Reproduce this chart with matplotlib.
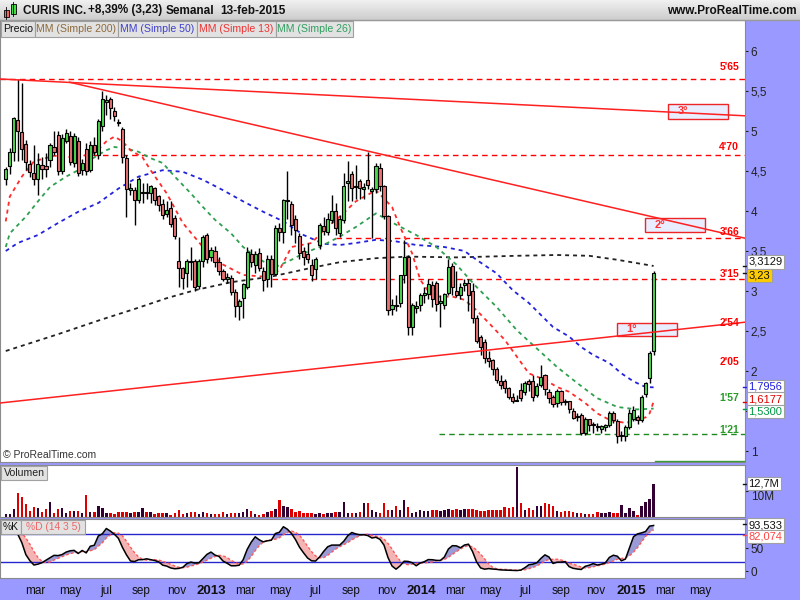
import matplotlib
matplotlib.use('Agg')
import matplotlib.pyplot as plt
import matplotlib.dates as mdates
from matplotlib.patches import Rectangle
from matplotlib.colors import LinearSegmentedColormap
import numpy as np
import pandas as pd

plt.rcParams['font.family'] = ['Liberation Sans', 'DejaVu Sans']

# weekly candles (CURIS INC.), last one = week of 13-feb-2015
opens = [
    4.40, 4.567, 4.742, 5.133, 4.983, 4.837, 4.592, 4.47, 4.396, 4.58,
    4.567, 4.633, 4.796, 4.946, 4.496, 4.879, 4.933, 4.596, 4.871, 4.508,
    4.771, 4.508, 4.821, 4.704, 5.058, 5.358, 5.396, 5.246, 5.11, 5.021,
    4.658, 4.258, 4.258, 4.133, 4.22, 4.233, 4.221, 4.283, 4.183, 4.083,
    3.958, 4.033, 3.908, 3.371, 3.283, 3.221, 3.38, 3.371, 3.067, 3.379,
    3.696, 3.421, 3.50, 3.363, 3.246, 3.146, 3.167, 2.988, 2.813, 2.908,
    3.046, 3.458, 3.321, 3.471, 3.254, 3.146, 3.40, 3.212, 3.788, 3.738,
    4.13, 4.083, 3.904, 3.683, 3.496, 3.458, 3.321, 3.271, 3.571, 3.813,
    3.738, 3.888, 3.996, 3.721, 3.888, 4.35, 4.458, 4.30, 4.37, 4.27,
    4.383, 4.246, 4.27, 4.533, 4.308, 3.937, 2.771, 2.83, 2.846, 3.196,
    3.429, 2.546, 2.79, 2.821, 2.95, 2.963, 3.071, 3.096, 2.85, 2.821,
    2.979, 3.308, 2.996, 2.946, 3.071, 3.096, 3.0, 2.658, 2.429, 2.362,
    2.16, 2.137, 2.021, 1.879, 1.871, 1.783, 1.675, 1.63, 1.758, 1.733,
    1.879, 1.871, 1.70, 1.825, 1.946, 1.733, 1.675, 1.596, 1.754, 1.62,
    1.62, 1.504, 1.42, 1.454, 1.229, 1.396, 1.325, 1.31, 1.275, 1.30,
    1.325, 1.479, 1.379, 1.19, 1.1875, 1.296, 1.404, 1.429, 1.3875, 1.7125,
    1.9125, 2.25]
highs = [
    4.55, 4.79, 5.18, 5.645, 5.60, 4.887, 4.637, 4.825, 4.72, 4.67,
    4.72, 4.85, 5.0, 5.0, 4.96, 5.02, 5.0, 4.97, 4.93, 4.65,
    4.85, 4.88, 4.92, 5.15, 5.50, 5.45, 5.42, 5.30, 5.15, 5.05,
    4.70, 4.35, 4.30, 4.42, 4.35, 4.35, 4.33, 4.30, 4.20, 4.15,
    4.13, 4.13, 3.95, 3.68, 3.30, 3.40, 3.55, 3.40, 3.40, 3.70,
    3.72, 3.55, 3.56, 3.42, 3.28, 3.22, 3.20, 3.02, 2.90, 3.10,
    3.55, 3.52, 3.50, 3.54, 3.30, 3.45, 3.45, 3.82, 3.85, 4.15,
    4.50, 4.12, 3.95, 3.72, 3.55, 3.60, 3.40, 3.42, 3.85, 3.92,
    3.97, 4.20, 4.10, 3.95, 4.47, 4.62, 4.50, 4.58, 4.40, 4.35,
    4.74, 4.30, 4.60, 4.60, 4.32, 3.95, 2.90, 2.95, 3.20, 3.64,
    3.45, 2.85, 2.88, 2.98, 3.05, 3.15, 3.12, 3.12, 2.95, 2.98,
    3.40, 3.35, 3.25, 3.10, 3.15, 3.15, 3.10, 2.70, 2.45, 2.40,
    2.25, 2.15, 2.05, 1.95, 1.90, 1.80, 1.72, 1.70, 1.85, 1.88,
    1.90, 1.95, 1.85, 2.075, 1.96, 1.78, 1.70, 1.78, 1.76, 1.65,
    1.63, 1.54, 1.48, 1.48, 1.42, 1.40, 1.36, 1.35, 1.33, 1.34,
    1.50, 1.50, 1.40, 1.25, 1.32, 1.52, 1.56, 1.45, 1.70, 1.86,
    2.25, 3.25]
lows = [
    4.32, 4.46, 4.62, 4.62, 4.64, 4.512, 4.43, 4.325, 4.196, 4.40,
    4.43, 4.55, 4.70, 4.45, 4.46, 4.85, 4.57, 4.55, 4.44, 4.45,
    4.45, 4.49, 4.70, 4.65, 5.0, 5.2, 5.15, 5.12, 5.06, 4.6,
    3.92, 4.20, 3.83, 4.10, 4.10, 4.15, 4.10, 4.08, 4.00, 3.90,
    3.92, 3.80, 3.65, 3.05, 3.02, 3.05, 3.14, 3.00, 3.03, 3.30,
    3.35, 3.38, 3.30, 3.20, 3.12, 3.10, 2.95, 2.68, 2.64, 2.66,
    3.02, 3.30, 3.22, 3.25, 3.00, 3.05, 3.05, 3.20, 3.62, 3.60,
    3.90, 3.70, 3.60, 3.40, 3.32, 3.35, 3.12, 3.15, 3.52, 3.70,
    3.70, 3.85, 3.70, 3.68, 3.85, 4.13, 4.12, 4.15, 4.15, 4.15,
    4.28, 3.66, 4.22, 4.25, 3.90, 2.70, 2.70, 2.75, 2.80, 3.10,
    2.45, 2.45, 2.72, 2.75, 2.85, 2.90, 2.80, 2.75, 2.55, 2.78,
    2.95, 2.95, 2.93, 2.90, 3.00, 2.75, 2.60, 2.35, 2.20, 2.10,
    2.05, 1.95, 1.85, 1.78, 1.72, 1.65, 1.60, 1.62, 1.62, 1.70,
    1.75, 1.62, 1.68, 1.80, 1.70, 1.60, 1.55, 1.55, 1.58, 1.57,
    1.48, 1.40, 1.38, 1.20, 1.20, 1.25, 1.22, 1.25, 1.22, 1.25,
    1.30, 1.35, 1.10, 1.13, 1.12, 1.28, 1.38, 1.34, 1.36, 1.68,
    1.85, 2.20]
closes = [
    4.525, 4.733, 5.167, 5.004, 4.771, 4.608, 4.492, 4.404, 4.592, 4.52,
    4.521, 4.821, 4.742, 4.496, 4.917, 4.971, 4.617, 4.933, 4.471, 4.596,
    4.50, 4.821, 4.742, 5.121, 5.396, 5.383, 5.283, 5.183, 5.10, 4.671,
    4.271, 4.283, 4.133, 4.396, 4.225, 4.221, 4.308, 4.133, 4.071, 3.946,
    4.008, 3.838, 3.683, 3.283, 3.162, 3.379, 3.36, 3.05, 3.371, 3.679,
    3.40, 3.508, 3.367, 3.246, 3.146, 3.171, 2.992, 2.813, 2.871, 3.083,
    3.492, 3.367, 3.458, 3.283, 3.138, 3.40, 3.217, 3.783, 3.738, 4.133,
    4.14, 3.829, 3.763, 3.471, 3.425, 3.40, 3.196, 3.404, 3.821, 3.746,
    3.904, 4.004, 3.783, 3.904, 4.317, 4.37, 4.283, 4.31, 4.283, 4.296,
    4.321, 4.279, 4.558, 4.308, 3.937, 2.762, 2.821, 2.813, 3.196, 3.429,
    2.546, 2.821, 2.813, 2.946, 2.98, 3.087, 2.896, 2.837, 2.88, 2.963,
    3.304, 3.05, 2.946, 3.046, 3.096, 2.95, 2.658, 2.371, 2.296, 2.158,
    2.13, 2.021, 1.888, 1.821, 1.783, 1.675, 1.625, 1.64, 1.667, 1.854,
    1.837, 1.671, 1.808, 1.921, 1.77, 1.658, 1.592, 1.754, 1.617, 1.61,
    1.52, 1.4125, 1.43, 1.229, 1.396, 1.325, 1.32, 1.30, 1.3125, 1.33,
    1.479, 1.3875, 1.1875, 1.20, 1.296, 1.471, 1.5125, 1.3875, 1.67, 1.845,
    2.22, 3.229]
# weekly volume, millions
volumes = [
    1.3, 1.3, 3.0, 9.3, 7.6, 4.9, 2.3, 3.7, 3.4, 1.9,
    3.2, 5.7, 1.7, 3.0, 3.4, 1.7, 2.2, 2.2, 2.2, 1.7,
    8.4, 1.9, 1.9, 4.1, 3.5, 1.7, 1.4, 1.3, 1.8, 2.1,
    1.9, 1.7, 1.8, 1.9, 3.6, 1.8, 1.8, 1.3, 1.4, 1.4,
    1.4, 0.9, 1.5, 2.6, 1.3, 1.4, 1.9, 1.9, 1.3, 1.9,
    1.5, 1.0, 1.2, 1.2, 1.9, 1.3, 1.4, 1.5, 1.5, 1.9,
    3.0, 2.2, 1.3, 0.9, 1.3, 1.9, 2.2, 3.0, 6.6, 4.3,
    3.9, 3.2, 1.9, 2.2, 1.5, 1.5, 1.5, 1.2, 1.5, 1.3,
    1.5, 1.5, 1.8, 1.9, 5.8, 1.7, 1.7, 1.7, 1.9, 5.4,
    5.4, 2.8, 1.9, 1.7, 5.5, 2.7, 2.7, 4.3, 2.7, 6.5,
    3.9, 1.7, 1.9, 2.7, 2.5, 2.5, 2.7, 2.7, 2.3, 2.7,
    3.1, 2.7, 3.2, 2.7, 3.2, 3.2, 3.2, 2.7, 2.5, 2.5,
    2.7, 2.7, 2.8, 2.8, 3.7, 3.5, 3.7, 19.2, 5.3, 2.8,
    3.6, 2.7, 4.3, 4.3, 5.2, 4.9, 4.1, 2.2, 1.8, 2.2,
    2.2, 1.9, 1.7, 1.7, 1.0, 1.0, 1.0, 2.0, 1.7, 1.7,
    1.8, 1.7, 1.7, 4.8, 1.7, 3.5, 2.2, 0.6, 4.1, 5.8,
    7.0, 12.7]

# moving averages (week index, value)
ma200_weeks = [0, 13, 23, 32, 40, 47, 56, 66, 76, 83, 92, 100, 112, 127, 137, 145, 152, 161]
ma200_vals = [2.25, 2.46, 2.63, 2.775, 2.91, 3.01, 3.11, 3.18, 3.29, 3.36, 3.41, 3.43,
              3.42, 3.44, 3.45, 3.44, 3.39, 3.3129]
ma50_weeks = [0, 3, 8, 13, 18, 23, 28, 33, 39, 44, 49, 54, 59, 64, 69, 74, 79, 83, 87, 92,
              97, 102, 109, 114, 117, 122, 126, 130, 133, 136, 140, 143, 146, 150, 153, 156, 159, 161]
ma50_vals = [3.50, 3.60, 3.70, 3.85, 3.99, 4.10, 4.28, 4.43, 4.51, 4.49, 4.39, 4.26, 4.12, 3.99,
             3.87, 3.70, 3.59, 3.575, 3.60, 3.64, 3.62, 3.575, 3.55, 3.50, 3.39, 3.22, 3.01, 2.85,
             2.70, 2.55, 2.43, 2.30, 2.20, 2.10, 1.97, 1.87, 1.80, 1.7956]
ma26_weeks = [0, 1, 5, 8, 11, 15, 18, 21, 25, 27, 30, 33, 36, 39, 42, 46, 49, 52, 56, 59,
              62, 64, 67, 71, 74, 78, 83, 87, 92, 97, 102, 107, 112, 117, 122, 127, 132, 137,
              142, 147, 152, 157, 161]
ma26_vals = [3.55, 3.72, 3.93, 4.12, 4.30, 4.43, 4.51, 4.64, 4.76, 4.80, 4.78, 4.74, 4.66, 4.60,
             4.43, 4.22, 4.05, 3.89, 3.72, 3.55, 3.43, 3.37, 3.30, 3.39, 3.47, 3.55, 3.68, 3.80,
             3.97, 3.83, 3.70, 3.55, 3.33, 3.05, 2.80, 2.51, 2.28, 2.05, 1.85, 1.66, 1.55, 1.52, 1.53]
ma13_weeks = [0, 1, 4, 7, 12, 17, 22, 25, 27, 29, 31, 34, 36, 40, 44, 49, 54, 59, 64, 68,
              71, 76, 79, 83, 87, 92, 96, 98, 101, 103, 106, 111, 114, 117, 121, 124, 127, 130,
              134, 137, 140, 144, 147, 150, 154, 157, 159, 160, 161]
ma13_vals = [3.87, 4.18, 4.43, 4.62, 4.69, 4.67, 4.72, 4.87, 4.93, 4.87, 4.76, 4.67, 4.51, 4.22,
             3.85, 3.55, 3.33, 3.20, 3.18, 3.26, 3.55, 3.60, 3.76, 3.93, 4.12, 4.26, 4.05, 3.80,
             3.47, 3.14, 2.93, 2.93, 2.89, 2.76, 2.55, 2.39, 2.18, 1.97, 1.89, 1.80, 1.74, 1.60,
             1.47, 1.39, 1.35, 1.39, 1.42, 1.47, 1.6177]

# horizontal levels: price, start date, colour
level_prices = [5.65, 4.70, 3.66, 3.15, 1.21]
level_starts = ['2011-12-30', '2012-05-22', '2013-08-05', '2013-04-17', '2014-02-01']
level_colors = ['#ff0000', '#ff0000', '#ff0000', '#ff0000', '#1f8a1f']
level_texts = ["5'65", "4'70", "3'66", "3'15", "2'54", "2'05", "1'57", "1'21"]
level_text_y = [5.80, 4.80, 3.7375, 3.2125, 2.60, 2.1125, 1.6625, 1.2625]
level_text_col = ['#ff0000'] * 6 + ['#2a9a2a', '#2a9a2a']

# trend lines (start, end)
trend_lines = [(('2011-12-30', 5.65), ('2015-07-18', 5.19)),
               (('2012-04-29', 5.61), ('2015-07-18', 3.66)),
               (('2011-12-30', 1.60), ('2015-07-18', 2.61))]
# target boxes: label, left date, bottom, top
boxes = [('1°', '2014-12-07', 2.4375, 2.60),
         ('2°', '2015-01-25', 3.7375, 3.9125),
         ('3°', '2015-03-06', 5.15, 5.3375)]

month_ticks = ['2012-03-01', '2012-05-01', '2012-07-01', '2012-09-01', '2012-11-01', '2013-01-01',
               '2013-03-01', '2013-05-01', '2013-07-01', '2013-09-01', '2013-11-01', '2014-01-01',
               '2014-03-01', '2014-05-01', '2014-07-01', '2014-09-01', '2014-11-01', '2015-01-01',
               '2015-03-01', '2015-05-01']
month_labels = ['mar', 'may', 'jul', 'sep', 'nov', '2013', 'mar', 'may', 'jul', 'sep', 'nov',
                '2014', 'mar', 'may', 'jul', 'sep', 'nov', '2015', 'mar', 'may']

dates = pd.date_range(end='2015-02-09', periods=len(closes), freq='7D')
x = mdates.date2num(dates)
o, h, l, c = map(np.array, (opens, highs, lows, closes))
up = c >= o
xl = mdates.date2num(pd.to_datetime(['2011-12-30', '2015-07-18']))

PURPLE = '#9999ff'
fig = plt.figure(figsize=(8, 6), dpi=100, facecolor=PURPLE)


def pbox(x0, y0, x1, y1):
    return [x0 / 800, 1 - y1 / 600, (x1 - x0) / 800, (y1 - y0) / 600]


ax = fig.add_axes(pbox(0, 20, 745, 462))
axv = fig.add_axes(pbox(0, 465, 745, 517))
axs = fig.add_axes(pbox(0, 519, 745, 578))
for a in (ax, axv, axs):
    a.set_xlim(xl)
    a.set_facecolor('white')
    for sp in a.spines.values():
        sp.set_color('#8a8a8a')
        sp.set_linewidth(0.8)
    a.yaxis.tick_right()
    a.tick_params(axis='y', direction='out', length=2.5, pad=1.5, labelsize=8.5,
                  colors='#222222')
ax.tick_params(axis='x', bottom=False, labelbottom=False)
axv.tick_params(axis='x', bottom=False, labelbottom=False)

# ---- price panel
ax.set_ylim(0.8625, 6.3875)
yt = [1, 1.5, 2, 2.5, 3, 3.5, 4, 4.5, 5, 5.5, 6]
ax.set_yticks(yt)
# 1,5 sits under the last-value boxes, so it is left blank
ax.set_yticklabels(['' if v == 1.5 else ('%g' % v).replace('.', ',') for v in yt])

for p, s, col in zip(level_prices, level_starts, level_colors):
    ax.hlines(p, mdates.date2num(pd.Timestamp(s)), xl[1], colors=col, lw=1,
              linestyles=(0, (4, 3)), zorder=1)
for (d0, p0), (d1, p1) in trend_lines:
    ax.plot(mdates.date2num(pd.to_datetime([d0, d1])), [p0, p1], color='#ff2020', lw=1.1, zorder=5)
for lab, d0, b, t in boxes:
    x0 = mdates.date2num(pd.Timestamp(d0))
    ax.add_patch(Rectangle((x0, b), 104.4, t - b, facecolor='#e4eaff', edgecolor='#ee0000',
                           lw=1, alpha=0.85, zorder=1.5))
    ax.text(x0 + 26, (b + t) / 2, lab, color='#ff3030', fontsize=8, fontweight='bold',
            va='center', ha='center', zorder=6)

ma_specs = [(ma200_weeks, ma200_vals, '#222222'), (ma50_weeks, ma50_vals, '#2222dd'),
            (ma26_weeks, ma26_vals, '#2f9f4f'), (ma13_weeks, ma13_vals, '#ff2a2a')]
for wk, vals, col in ma_specs:
    ax.plot(x[wk], vals, color=col, lw=1.3, ls=(0, (2.2, 2.2)), zorder=2)

# candles
ax.vlines(x, l, h, color='black', lw=1, zorder=3)
ax.bar(x, np.maximum(np.abs(c - o), 0.012), bottom=np.minimum(o, c), width=5.4,
       color=np.where(up, '#4cd94c', '#eb7272'), edgecolor='black', lw=0.8, zorder=4)

tr = ax.get_yaxis_transform()
for txt, yy, col in zip(level_texts, level_text_y, level_text_col):
    ax.text(0.992, yy, txt, transform=tr, ha='right', va='center', fontsize=7.5,
            fontweight='bold', color=col, zorder=7)

# ---- volume panel
axv.set_ylim(0, 20)
axv.bar(x, volumes, width=4.3, color=np.where(up, '#330033', '#dd0000'))
axv.set_yticks([10])
axv.set_yticklabels(['10M'], va='top')

# ---- stochastic panel
cs, hs, ls_ = pd.Series(c), pd.Series(h), pd.Series(l)
hh = hs.rolling(14, min_periods=1).max()
ll = ls_.rolling(14, min_periods=1).min()
fast_k = 100 * (cs - ll) / (hh - ll)
k = fast_k.rolling(3, min_periods=1).mean().values
d = pd.Series(k).rolling(5, min_periods=1).mean().values
axs.set_ylim(-14, 112)
axs.fill_between(x, k, d, where=k >= d, color='#9a9ad6', interpolate=True, lw=0)
axs.fill_between(x, k, d, where=k < d, color='#f5b4b4', interpolate=True, lw=0)
axs.axhline(80, color='#2626cc', lw=1)
axs.axhline(20, color='#2626cc', lw=1)
axs.plot(x, d, color='#ff5a5a', lw=1, ls=(0, (2, 1.5)))
axs.plot(x, k, color='black', lw=1.1)
axs.set_yticks([0, 50])
axs.set_yticklabels(['0', '50'])
axs.set_xticks(mdates.date2num(pd.to_datetime(month_ticks)))
axs.set_xticklabels(month_labels)
axs.tick_params(axis='x', length=0, pad=5, labelsize=8.5, colors='#111111')
for t in axs.get_xticklabels():
    if t.get_text().isdigit():
        t.set_fontweight('bold')
        t.set_fontsize(9.5)

# ---- overlay in pixel coordinates
ov = fig.add_axes([0, 0, 1, 1], zorder=10)
ov.set_axis_off()
grad = LinearSegmentedColormap.from_list('hdr', ['#f0f0f0', '#cdcdcd'])
ov.imshow(np.linspace(0, 1, 20).reshape(-1, 1), extent=(0, 800, 20, 0), cmap=grad, aspect='auto')
ov.set_xlim(0, 800)
ov.set_ylim(600, 0)
ov.plot([0, 800], [20, 20], color='#999999', lw=1)
# header icon
ov.plot([6, 6], [7, 19], color='black', lw=0.6)
ov.add_patch(Rectangle((3.5, 10), 5, 7, fc='#ee6666', ec='black', lw=0.6))
ov.plot([13, 13], [2, 16], color='black', lw=0.6)
ov.add_patch(Rectangle((10.5, 4), 5, 10, fc='#44dd44', ec='black', lw=0.6))
hdr = dict(fontsize=8.5, fontweight='bold', va='center', color='#111111')
ov.text(23, 10.5, 'CURIS INC.', **hdr)
ov.text(88, 10.5, '+8,39% (3,23)', **hdr)
ov.text(166, 10.5, 'Semanal', **hdr)
ov.text(220, 10.5, '13-feb-2015', **hdr)
ov.text(797, 10.5, 'www.ProRealTime.com', ha='right', fontsize=8.5, fontweight='bold',
        va='center', color='#111111')

tabs = [('Precio', '#111111', 1, 35), ('MM (Simple 200)', '#8c6a3c', 35, 118),
        ('MM (Simple 50)', '#4040cc', 118, 197), ('MM (Simple 13)', '#ee3333', 197, 276),
        ('MM (Simple 26)', '#2f9f5f', 276, 353)]
for txt, col, x0, x1 in tabs:
    ov.add_patch(Rectangle((x0, 21), x1 - x0, 16, fc='#e2e2e2', ec='#a0a0a0', lw=0.8))
    ov.text((x0 + x1) / 2, 29.5, txt, color=col, fontsize=7.6, va='center', ha='center')

ov.add_patch(Rectangle((1, 466), 46, 14, fc='#e2e2e2', ec='#a0a0a0', lw=0.8))
ov.text(24, 473.5, 'Volumen', fontsize=7.6, va='center', ha='center', color='#222222')
ov.add_patch(Rectangle((1, 520), 20, 14, fc='#e2e2e2', ec='#a0a0a0', lw=0.8))
ov.text(11, 527.5, '%K', fontsize=7.4, va='center', ha='center', color='#111111')
ov.add_patch(Rectangle((21, 520), 64, 14, fc='#e2e2e2', ec='#a0a0a0', lw=0.8))
ov.text(53, 527.5, '%D (14 3 5)', fontsize=7.4, va='center', ha='center', color='#ee6666')
ov.text(3, 455, '© ProRealTime.com', fontsize=7.5, va='center', color='#333333')
ov.plot([655, 744], [461, 461], color='#3a9a3a', lw=1)

# last values on the right scale
vb = dict(boxstyle='square,pad=0.14', ec='#a0a0a0', lw=0.8)
marks = [(266, '#111111', '3,3129', 262, 'white'), (273, '#111111', '3,23', 275.5, '#ffcc00'),
         (387, '#2020dd', '1,7956', 386.5, 'white'), (401.5, '#dd0000', '1,6177', 399, 'white'),
         (408.5, '#009944', '1,5300', 411.5, 'white'),
         (484, '#111111', '12,7M', 483.5, 'white'),
         (524, '#111111', '93,533', 525, 'white'), (535, '#ff4444', '82,074', 536.5, 'white')]
for ym, col, txt, yt_, fc in marks:
    ov.plot([743, 747], [ym, ym], color=col, lw=1)
    ov.text(748.5, yt_, txt, color=col, fontsize=8, va='center', ha='left',
            bbox=dict(fc=fc, **vb))

fig.savefig('out.png', dpi=100, facecolor=PURPLE)
